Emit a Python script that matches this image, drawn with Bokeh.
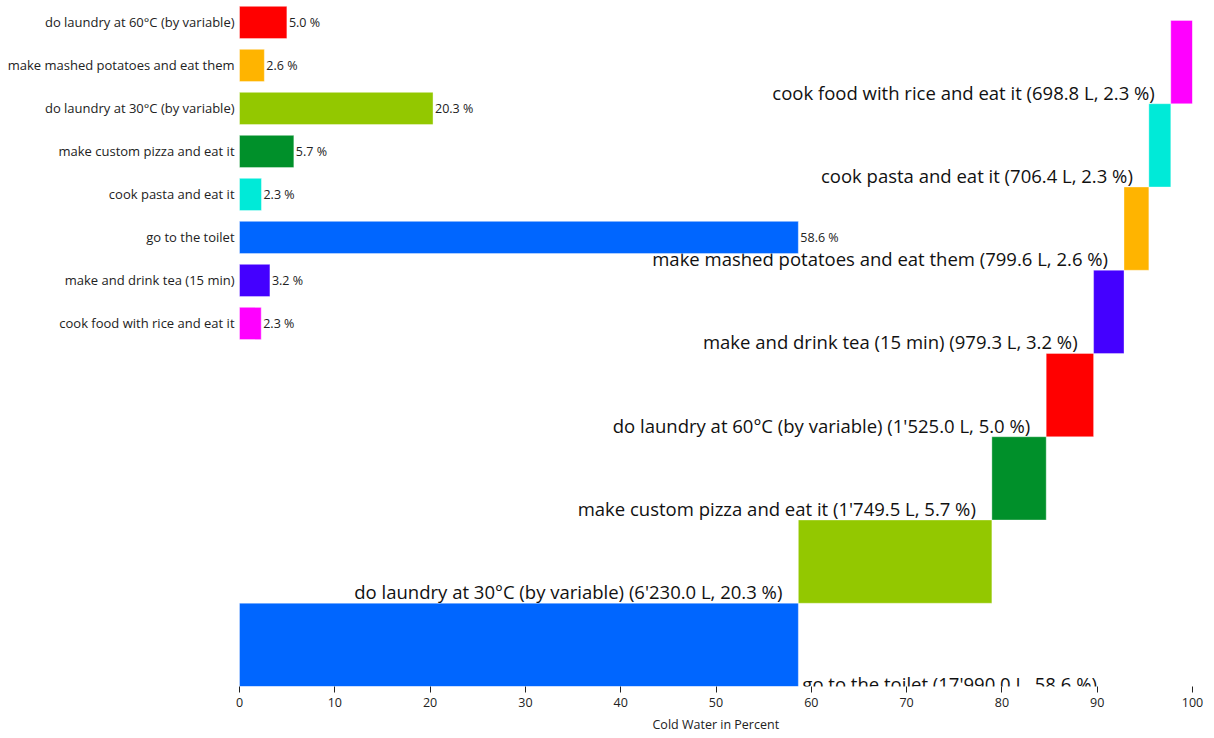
from bokeh.plotting import figure
from bokeh.models import Range1d, ColumnDataSource, FixedTicker, LinearAxis, Title
from bokeh.core.properties import value
from bokeh.embed import file_html
from bokeh.resources import INLINE

# ---- data ----
# waterfall order, bottom to top
activities = ["go to the toilet", "do laundry at 30°C (by variable)", "make custom pizza and eat it",
              "do laundry at 60°C (by variable)", "make and drink tea (15 min)",
              "make mashed potatoes and eat them", "cook pasta and eat it", "cook food with rice and eat it"]
liters = [17990.0, 6230.0, 1749.5, 1525.0, 979.3, 799.6, 706.4, 698.8]
colors = ["#0066FF", "#93C800", "#00902A", "#FF0000", "#4400FF", "#FFB400", "#00EAD8", "#FF00FF"]

# inset bar chart order, top to bottom
inset_order = ["do laundry at 60°C (by variable)", "make mashed potatoes and eat them",
               "do laundry at 30°C (by variable)", "make custom pizza and eat it",
               "cook pasta and eat it", "go to the toilet", "make and drink tea (15 min)",
               "cook food with rice and eat it"]

x_ticks = [0, 10, 20, 30, 40, 50, 60, 70, 80, 90, 100]
x_title = "Cold Water in Percent"

FONT = "Open Sans"

total = sum(liters)
pct = [v / total * 100 for v in liters]
lefts, rights = [], []
acc = 0.0
for p_ in pct:
    lefts.append(acc)
    acc += p_
    rights.append(acc)

def fmt_l(v):
    return f"{v:,.1f}".replace(",", "'")

labels = [f"{a} ({fmt_l(v)} L, {p_:.1f} %)" for a, v, p_ in zip(activities, liters, pct)]

n = len(activities)
wf = ColumnDataSource(dict(
    left=lefts, right=rights,
    bottom=list(range(n)), top=[i + 1 for i in range(n)],
    color=colors, label=labels,
))

p = figure(width=1214, height=738, output_backend="svg", toolbar_location=None,
           x_range=Range1d(-25.08, 100), y_range=Range1d(0, 8.24),
           min_border_left=0, min_border_right=22, min_border_top=0, min_border_bottom=52,
           x_axis_location=None, y_axis_location=None)
p.outline_line_color = None
p.xgrid.visible = False
p.ygrid.visible = False
p.background_fill_color = "white"
p.border_fill_color = "white"

p.quad(left="left", right="right", bottom="bottom", top="top", source=wf,
       fill_color="color", line_color="white", line_alpha=0.35, line_width=1)

# labels for waterfall (all but first: right aligned left of bar)
lab_src = ColumnDataSource(dict(x=lefts[1:], y=list(range(1, n)), t=labels[1:]))
p.text(x="x", y="y", text="t", source=lab_src, text_align="right", text_baseline="bottom",
       x_offset=-16, y_offset=1, text_font=value(FONT), text_font_size="18.5px", text_color="#111111")
first_src = ColumnDataSource(dict(x=[rights[0]], y=[0], t=[labels[0]]))
p.text(x="x", y="y", text="t", source=first_src, text_align="left", text_baseline="bottom",
       x_offset=4, y_offset=9, text_font=value(FONT), text_font_size="18.5px", text_color="#111111")

# inset bar chart
p.extra_y_ranges = {"inset": Range1d(-15.442, 0.5116)}
inset_pct = [pct[activities.index(a)] for a in inset_order]
inset_col = [colors[activities.index(a)] for a in inset_order]
ins = ColumnDataSource(dict(
    y=[-k for k in range(len(inset_order))], w=inset_pct, c=inset_col,
    name=inset_order, val=[f"{v:.1f} %" for v in inset_pct], zero=[0] * len(inset_order),
))
p.hbar(y="y", left=0, right="w", height=0.75, source=ins, y_range_name="inset",
       fill_color="c", line_color="white", line_alpha=0.4, line_width=1)
p.text(x="zero", y="y", text="name", source=ins, y_range_name="inset", text_align="right",
       text_baseline="middle", x_offset=-5, text_font=value(FONT), text_font_size="13px",
       text_color="#222222")
p.text(x="w", y="y", text="val", source=ins, y_range_name="inset", text_align="left",
       text_baseline="middle", x_offset=2, text_font=value(FONT), text_font_size="12.5px",
       text_color="#222222")

# x axis
ax = LinearAxis(ticker=FixedTicker(ticks=x_ticks))
ax.axis_line_color = None
ax.major_tick_in = 0
ax.major_tick_out = 6
ax.major_tick_line_color = "#222222"
ax.minor_tick_line_color = None
ax.major_label_text_font = FONT
ax.major_label_text_font_size = "12.5px"
ax.major_label_text_color = "#222222"
ax.major_label_standoff = 5
p.add_layout(ax, "below")

# axis title, centred under the 0..100 span (frame starts at page x=0)
title_lbl = Title(text=x_title, align="left", offset=652, standoff=9,
                  text_font=FONT, text_font_size="12.5px", text_font_style="normal",
                  text_color="#222222")
p.add_layout(title_lbl, "below")

open("out.html", "w").write(file_html(p, INLINE))
